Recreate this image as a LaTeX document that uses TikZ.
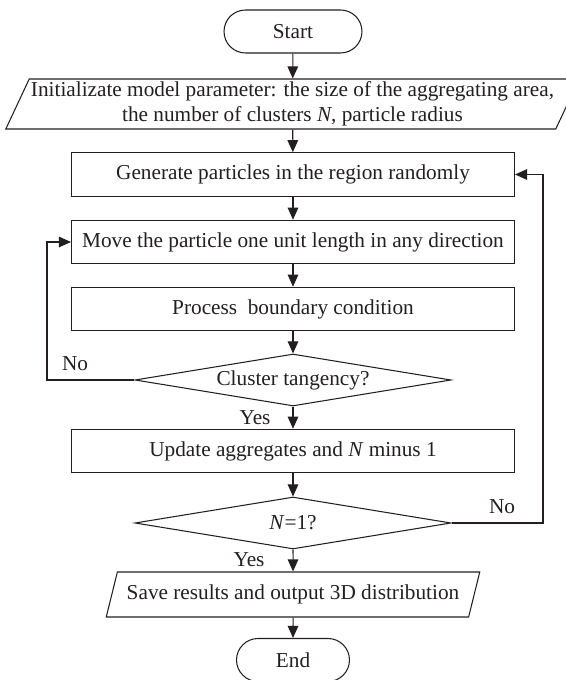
\documentclass[tikz,border=0pt]{standalone}
\usepackage{fontspec}
\setmainfont{Liberation Serif}
\usetikzlibrary{arrows.meta,shapes.geometric,shapes.misc}
\definecolor{ink}{HTML}{231F20}
\tikzset{
  >={Triangle[length=0.24cm,width=0.21cm]},
  every node/.style={font=\fontsize{12.1}{14.2}\selectfont, text=ink},
  term/.style={rounded rectangle, draw=ink, line width=0.6pt, minimum height=0.86cm, inner sep=2pt},
  proc/.style={rectangle, draw=ink, line width=0.6pt, minimum width=8.86cm, minimum height=0.87cm, inner sep=2pt},
  io/.style={trapezium, trapezium left angle=64, trapezium right angle=116, trapezium stretches body,
             draw=ink, line width=0.6pt, align=center, inner sep=1pt},
  test/.style={diamond, aspect=6.1, draw=ink, line width=0.6pt, minimum width=6.32cm, minimum height=1.04cm, inner sep=0pt},
  flow/.style={->, draw=ink, line width=0.6pt},
  tag/.style={font=\fontsize{12.1}{14.2}\selectfont},
}
\begin{document}
\begin{tikzpicture}
\useasboundingbox (0,0) rectangle (11.32,13.6);

% ================= main column =================
\def\cx{5.86}
\node[term, minimum width=2.9cm] (start) at (\cx,12.97) {Start};
\node[io, minimum width=11.38cm, minimum height=1.0cm] (init) at (5.85,11.52)
      {Initializate model parameter: the size of the aggregating area,\\the number of clusters \textit{N}, particle radius};
\node[proc] (gen)  at (\cx,10.11) {Generate particles in the region randomly};
\node[proc] (move) at (\cx,8.76)  {Move the particle one unit length in any direction};
\node[proc] (bnd)  at (\cx,7.42)  {Process~~boundary condition};
\node[test] (tang) at (\cx,6.00)  {Cluster tangency?};
\node[proc] (upd)  at (\cx,4.58)  {Update aggregates and \textit{N} minus 1};
\node[test] (last) at (\cx,3.14)  {\textit{N}=1?};
\node[io, minimum width=7.47cm, minimum height=0.9cm] (save) at (\cx,1.71)
      {Save results and output 3D distribution};
\node[term, minimum width=2.4cm] (stop) at (\cx,0.40) {End};

\draw[flow] (start) -- (init);
\draw[flow] (init)  -- (gen);
\draw[flow] (gen)   -- (move);
\draw[flow] (move)  -- (bnd);
\draw[flow] (bnd)   -- (tang);
\draw[flow] (tang)  -- (upd);
\draw[flow] (upd)   -- (last);
\draw[flow] (last)  -- (save);
\draw[flow] (save)  -- (stop);

% ================= loops back =================
\coordinate (lbend) at (0.94,6.00);
\coordinate (rbend) at (10.86,3.14);
\draw[flow] (tang.west) -- (lbend) |- (move.west);
\draw[flow] (last.east) -- (rbend) |- (gen.east);

\node[tag] (no1)  at (1.50,6.32)  {No};
\node[tag] (yes1) at (5.10,5.24)  {Yes};
\node[tag] (no2)  at (10.04,3.46) {No};
\node[tag] (yes2) at (4.98,2.40)  {Yes};

\end{tikzpicture}
\end{document}
